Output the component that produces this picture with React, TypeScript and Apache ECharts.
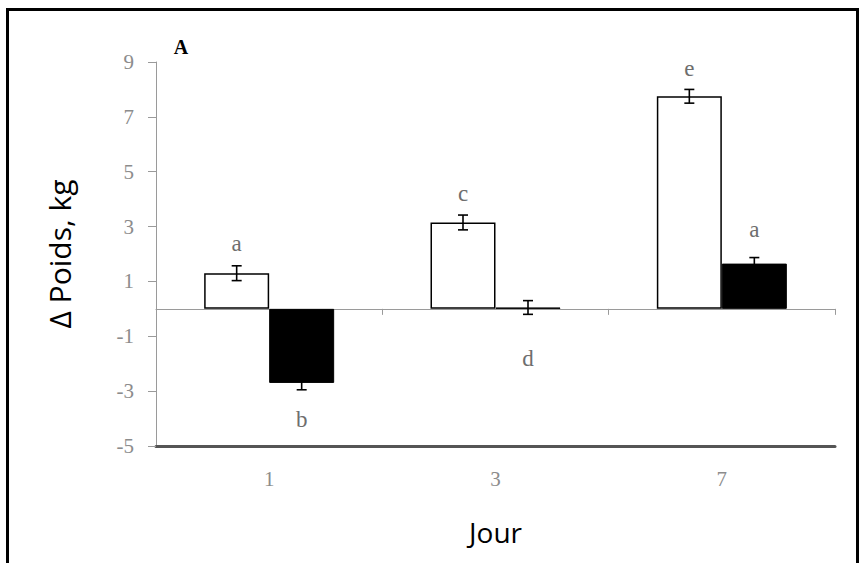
import React, { useEffect, useRef } from "react";
import * as echarts from "echarts";

const categories = ["1", "3", "7"];
const whiteValues = [1.3, 3.15, 7.75];
const whiteErrors = [0.27, 0.27, 0.25];
const blackValues = [-2.7, 0.05, 1.65];
const blackErrors = [0.25, 0.25, 0.22];
const whiteLetters = ["a", "c", "e"];
const whiteLetterY = [2.38, 4.2, 8.78];
const blackLetters = ["b", "d", "a"];
const blackLetterY = [-4.02, -1.8, 2.89];
const yTickMin = -5;
const yTickMax = 9;
const yTickStep = 2;

const BAR_W = 65;

export default function App() {
  const ref = useRef<HTMLDivElement>(null);
  useEffect(() => {
    if (!ref.current) return;
    const chart = echarts.init(ref.current, null, { renderer: "svg" });
    const values = [whiteValues, blackValues];
    const errors = [whiteErrors, blackErrors];
    const letters = [whiteLetters, blackLetters];
    const letterY = [whiteLetterY, blackLetterY];
    const errData: number[][] = [];
    const letData: number[][] = [];
    for (let s = 0; s < 2; s++) {
      for (let i = 0; i < categories.length; i++) {
        errData.push([i, values[s][i], errors[s][i], s]);
        letData.push([i, letterY[s][i], s]);
      }
    }
    const serif = "'Liberation Serif', 'Times New Roman', serif";
    chart.setOption({
      animation: false,
      backgroundColor: "#fff",
      grid: { left: 156, right: 25, top: 62, bottom: 117 },
      xAxis: [
        {
          type: "category",
          data: categories,
          position: "bottom",
          axisLine: { onZero: false, lineStyle: { color: "#555", width: 3 } },
          axisTick: { show: false },
          axisLabel: { color: "#8c8c8c", fontFamily: serif, fontSize: 21, margin: 22 },
          name: "Jour",
          nameLocation: "middle",
          nameGap: 72,
          nameTextStyle: { color: "#000", fontFamily: "'Open Sans'", fontSize: 28 },
        },
        {
          type: "category",
          data: categories,
          position: "bottom",
          axisLine: { onZero: true, lineStyle: { color: "#9a9a9a", width: 1 } },
          axisTick: { show: true, length: 6, lineStyle: { color: "#9a9a9a" } },
          axisLabel: { show: false },
        },
      ],
      yAxis: {
        type: "value",
        min: yTickMin,
        max: yTickMax,
        interval: yTickStep,
        axisLine: { show: true, lineStyle: { color: "#9a9a9a", width: 1 } },
        axisTick: { show: true, length: 8, lineStyle: { color: "#9a9a9a" } },
        splitLine: { show: false },
        axisLabel: { color: "#8c8c8c", fontFamily: serif, fontSize: 21, margin: 22 },
        name: "Δ Poids, kg",
        nameLocation: "middle",
        nameRotate: 90,
        nameGap: 82,
        nameTextStyle: { color: "#000", fontFamily: "'Open Sans'", fontSize: 30 },
      },
      series: [
        {
          type: "bar",
          data: whiteValues,
          barWidth: BAR_W,
          barGap: "0%",
          itemStyle: { color: "#fff", borderColor: "#000", borderWidth: 1.5 },
          z: 2,
        },
        {
          type: "bar",
          data: blackValues,
          barWidth: BAR_W,
          barGap: "0%",
          itemStyle: { color: "#000", borderColor: "#000", borderWidth: 1 },
          z: 2,
        },
        {
          type: "custom",
          data: errData,
          z: 5,
          renderItem: (params: any, api: any) => {
            const i = api.value(0);
            const v = api.value(1);
            const e = api.value(2);
            const s = api.value(3);
            const dx = (s === 0 ? -1 : 1) * (BAR_W / 2);
            const top = api.coord([i, v + e]);
            const bot = api.coord([i, v - e]);
            const x = top[0] + dx;
            const cap = 5;
            const st = { stroke: "#000", lineWidth: 1.6 };
            return {
              type: "group",
              children: [
                { type: "line", shape: { x1: x, y1: top[1], x2: x, y2: bot[1] }, style: st },
                { type: "line", shape: { x1: x - cap, y1: top[1], x2: x + cap, y2: top[1] }, style: st },
                { type: "line", shape: { x1: x - cap, y1: bot[1], x2: x + cap, y2: bot[1] }, style: st },
              ],
            };
          },
        },
        {
          type: "custom",
          data: letData,
          z: 6,
          renderItem: (params: any, api: any) => {
            const i = api.value(0);
            const y = api.value(1);
            const s = api.value(2);
            const p = api.coord([i, y]);
            const dx = (s === 0 ? -1 : 1) * (BAR_W / 2);
            return {
              type: "text",
              x: p[0] + dx,
              y: p[1],
              style: {
                text: letters[s][i],
                fill: "#6e6e6e",
                font: `23px ${serif}`,
                align: "center",
                verticalAlign: "middle",
              },
            };
          },
        },
      ],
      graphic: [
        {
          type: "rect",
          shape: { x: 7.5, y: 9.5, width: 850, height: 600 },
          style: { fill: "none", stroke: "#000", lineWidth: 3 },
          silent: true,
        },
        {
          type: "text",
          x: 181,
          y: 47,
          style: {
            text: "A",
            fill: "#000",
            font: `bold 20px ${serif}`,
            align: "center",
            verticalAlign: "middle",
          },
        },
      ],
    });
    return () => chart.dispose();
  }, []);
  return (
    <div
      ref={ref}
      style={{ position: "absolute", left: 0, top: 0, width: 860, height: 563 }}
    />
  );
}
